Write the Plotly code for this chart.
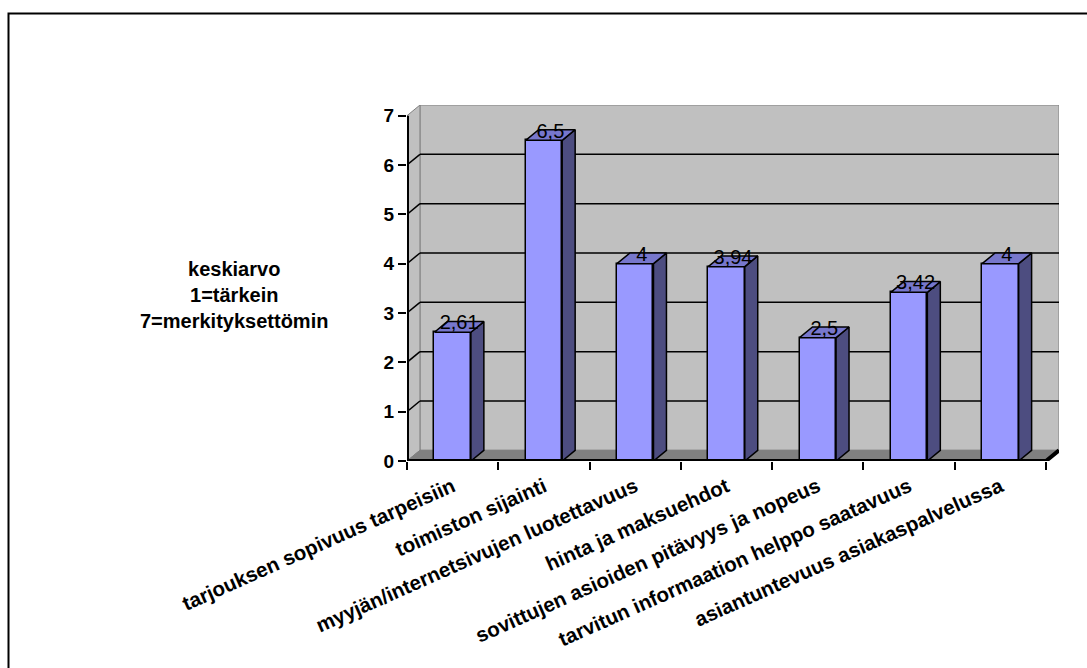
import plotly.graph_objects as go

# Survey results: mean importance ranking (1 = most important, 7 = least)
categories = [
    "tarjouksen sopivuus tarpeisiin",
    "toimiston sijainti",
    "myyjän/internetsivujen luotettavuus",
    "hinta ja maksuehdot",
    "sovittujen asioiden pitävyys ja nopeus",
    "tarvitun informaation helppo saatavuus",
    "asiantuntevuus asiakaspalvelussa",
]
values = [2.61, 6.5, 4, 3.94, 2.5, 3.42, 4]
y_ticks = [0, 1, 2, 3, 4, 5, 6, 7]
axis_title = "keskiarvo<br>1=tärkein<br>7=merkityksettömin"

# --- styling -------------------------------------------------------------
FONT = "Liberation Sans, Arial, sans-serif"
FRONT = "#9999FF"
SIDE = "#4D4D80"
TOP = "#7777CC"
WALL = "#C0C0C0"
FLOOR = "#808080"
EDGE = "#808080"

# pseudo-3D depth offset expressed in data units
DX = 0.142
DY = 0.217
HALF = 0.2          # half bar width
Y_MAX = max(y_ticks)

W, H = 1087, 668
ML, MR, MT, MB = 407, 28, 105, 207
plot_w = W - ML - MR
plot_h = H - MT - MB


def px_to_paper_x(px):
    return (px - ML) / plot_w


def px_to_paper_y(py):
    return (H - MB - py) / plot_h


x_idx = list(range(len(categories)))
x_lo, x_hi = -0.5, len(categories) - 0.5

fig = go.Figure()

# --- walls, floor and gridlines (drawn beneath the bars) ----------------
shapes = []
# back wall
shapes.append(dict(type="rect", xref="x", yref="y", layer="below",
                   x0=x_lo + DX, x1=x_hi + DX, y0=DY, y1=Y_MAX + DY,
                   fillcolor=WALL, line=dict(color=EDGE, width=1)))
# left side wall
shapes.append(dict(type="path", xref="x", yref="y", layer="below",
                   path=f"M{x_lo},0 L{x_lo + DX},{DY} L{x_lo + DX},{Y_MAX + DY} L{x_lo},{Y_MAX} Z",
                   fillcolor=WALL, line=dict(color=EDGE, width=1)))
# floor
shapes.append(dict(type="path", xref="x", yref="y", layer="below",
                   path=f"M{x_lo},0 L{x_hi},0 L{x_hi + DX},{DY} L{x_lo + DX},{DY} Z",
                   fillcolor=FLOOR, line=dict(color=FLOOR, width=1)))
# gridlines: diagonal across the side wall, horizontal across the back wall
for k in y_ticks[1:-1]:
    shapes.append(dict(type="line", xref="x", yref="y", layer="below",
                       x0=x_lo, y0=k, x1=x_lo + DX, y1=k + DY,
                       line=dict(color="black", width=1.5)))
    shapes.append(dict(type="line", xref="x", yref="y", layer="below",
                       x0=x_lo + DX, y0=k + DY, x1=x_hi + DX, y1=k + DY,
                       line=dict(color="black", width=1.5)))

# outer chart frame
shapes.append(dict(type="rect", xref="paper", yref="paper", layer="above",
                   x0=px_to_paper_x(8.5), x1=px_to_paper_x(W + 20),
                   y0=px_to_paper_y(H + 20), y1=px_to_paper_y(13.5),
                   fillcolor="rgba(0,0,0,0)", line=dict(color="black", width=2)))

# --- bars ------------------------------------------------------------------
fig.add_trace(go.Bar(
    x=x_idx, y=values, width=2 * HALF,
    marker=dict(color=FRONT, line=dict(color="black", width=1.5)),
    hoverinfo="skip",
))

side_x, side_y, top_x, top_y = [], [], [], []
for i, v in zip(x_idx, values):
    r = i + HALF
    l = i - HALF
    side_x += [r, r + DX, r + DX, r, r, None]
    side_y += [0, DY, v + DY, v, 0, None]
    top_x += [l, r, r + DX, l + DX, l, None]
    top_y += [v, v, v + DY, v + DY, v, None]

fig.add_trace(go.Scatter(x=side_x, y=side_y, mode="lines", fill="toself",
                         fillcolor=SIDE, line=dict(color="black", width=1.5),
                         hoverinfo="skip"))
fig.add_trace(go.Scatter(x=top_x, y=top_y, mode="lines", fill="toself",
                         fillcolor=TOP, line=dict(color="black", width=1.5),
                         hoverinfo="skip"))

# front axis lines (y axis up to the top tick, x axis with its depth corner)
fig.add_trace(go.Scatter(x=[x_lo, x_lo], y=[0, Y_MAX], mode="lines",
                         line=dict(color="black", width=4), hoverinfo="skip"))
fig.add_trace(go.Scatter(x=[x_lo, x_hi, x_hi + DX], y=[0, 0, DY], mode="lines",
                         line=dict(color="black", width=4), hoverinfo="skip"))

# value labels sitting on the bar tops
labels = [f"{v:g}".replace(".", ",") for v in values]
fig.add_trace(go.Scatter(
    x=[i + DX / 2 for i in x_idx], y=[v + DY / 2 + 0.05 for v in values],
    mode="text", text=labels, textposition="middle center",
    textfont=dict(family=FONT, size=20, color="black"),
    cliponaxis=False, hoverinfo="skip",
))

# y axis title block
annotations = [dict(
    xref="paper", yref="paper", x=px_to_paper_x(234.5), y=px_to_paper_y(295),
    xanchor="center", yanchor="middle", showarrow=False, align="center",
    text=axis_title, font=dict(family=FONT, size=20, color="black", weight="bold"),
)]

fig.update_layout(
    width=W, height=H,
    margin=dict(l=ML, r=MR, t=MT, b=MB, pad=0, autoexpand=False),
    paper_bgcolor="white", plot_bgcolor="white",
    showlegend=False, bargap=0,
    shapes=shapes, annotations=annotations,
    xaxis=dict(
        range=[x_lo, x_hi + DX], tickmode="array", tickvals=x_idx,
        ticktext=categories, tickangle=-24, ticks="", ticklabelstandoff=9,
        tickfont=dict(family=FONT, size=20.5, color="black", weight="bold"),
        showgrid=False, zeroline=False, showline=False, fixedrange=True,
        minor=dict(tickmode="linear", tick0=-0.5, dtick=1, ticks="outside",
                   ticklen=8, tickwidth=2, tickcolor="black", showgrid=False),
    ),
    yaxis=dict(
        range=[0, Y_MAX + DY], tickmode="array", tickvals=y_ticks,
        ticks="outside", ticklen=8, tickwidth=2, tickcolor="black",
        tickfont=dict(family=FONT, size=19, color="black", weight="bold"),
        showgrid=False, zeroline=False, showline=False, fixedrange=True,
    ),
)

fig.write_html("out.html")
